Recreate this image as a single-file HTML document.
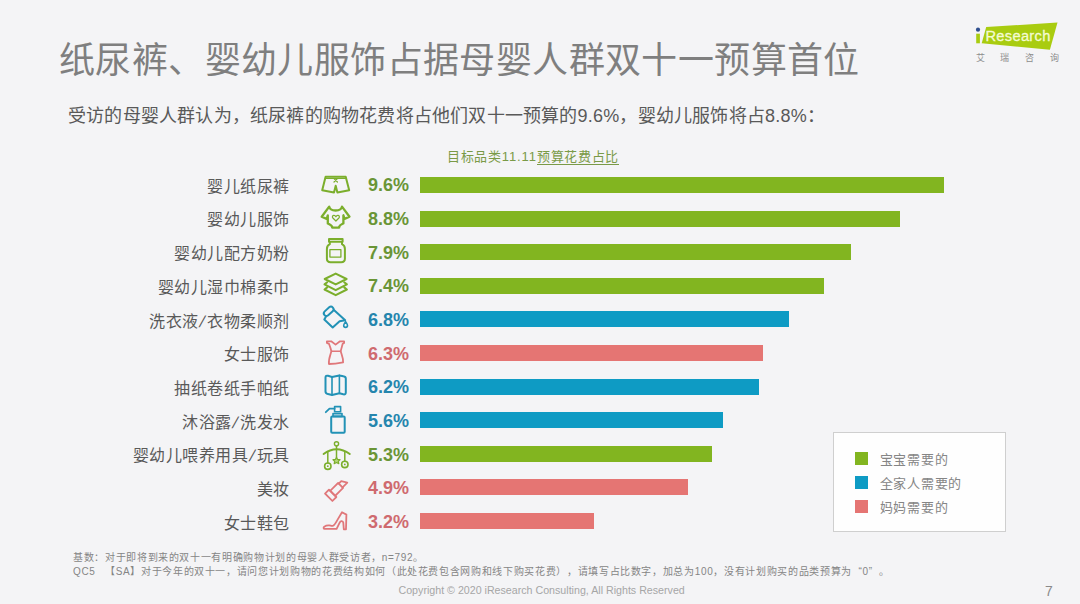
<!DOCTYPE html>
<html lang="zh-CN"><head><meta charset="utf-8">
<style>
*{margin:0;padding:0;box-sizing:border-box}
html,body{width:1080px;height:604px;overflow:hidden;background:#f4f4f6}
body{position:relative;font-family:"Liberation Sans",sans-serif;text-spacing-trim:space-all}
.a{position:absolute;white-space:nowrap}
#title{left:59px;top:41px;font-size:36px;letter-spacing:0.4px;line-height:40px;color:#7f7f7f}
#sub{left:68px;top:105px;font-size:18px;letter-spacing:0.2px;line-height:22px;color:#595959}
#ctitle{left:447px;top:149px;font-size:13px;letter-spacing:0.7px;line-height:16px;color:#7a9a47}
#ctitle u{text-decoration:none;border-bottom:1px solid #7a9a47}
.lab{right:790.5px;font-size:16px;letter-spacing:0.5px;line-height:20px;color:#595959;text-align:right}
.sl{display:inline-block;transform:skewX(-16deg);margin:0 1.6px}
.pct{left:368px;font-size:18px;line-height:20px;font-weight:bold}
.bar{left:420px;height:16px}
.g{background:#82b520}.b{background:#0e9bc4}.p{background:#e57573}
.tg{color:#6a9536}.tb{color:#2585ad}.tp{color:#cf6a6f}
#legend{left:833px;top:432px;width:173px;height:100px;background:#fefefe;border:1px solid #cfcfcf}
.sw{position:absolute;left:21px;width:13px;height:13px}
.lt{position:absolute;left:45.5px;font-size:13px;letter-spacing:0.75px;line-height:16px;color:#858585}
.fn{left:73px;font-size:10px;letter-spacing:0.65px;line-height:13px;color:#858585}
#copy{left:398.5px;top:583.8px;font-size:10.66px;line-height:13px;color:#a6a6a6}
#pg{left:1045px;top:583px;font-size:14px;line-height:16px;color:#8a8a8a}
</style></head><body>
<div class="a" id="title">纸尿裤、婴幼儿服饰占据母婴人群双十一预算首位</div>
<div class="a" id="sub">受访的母婴人群认为，纸尿裤的购物花费将占他们双十一预算的9.6%，婴幼儿服饰将占8.8%：</div>
<div class="a" id="ctitle">目标品类<span style="letter-spacing:0.9px">11.11</span><u>预算花费占比</u></div>

<div class="a lab" style="top:176.80px">婴儿纸尿裤</div>
<div class="a lab" style="top:210.48px">婴幼儿服饰</div>
<div class="a lab" style="top:244.16px">婴幼儿配方奶粉</div>
<div class="a lab" style="top:277.84px">婴幼儿湿巾棉柔巾</div>
<div class="a lab" style="top:311.52px">洗衣液<span class="sl">/</span>衣物柔顺剂</div>
<div class="a lab" style="top:345.20px">女士服饰</div>
<div class="a lab" style="top:378.88px">抽纸卷纸手帕纸</div>
<div class="a lab" style="top:412.56px">沐浴露<span class="sl">/</span>洗发水</div>
<div class="a lab" style="top:446.24px">婴幼儿喂养用具<span class="sl">/</span>玩具</div>
<div class="a lab" style="top:479.92px">美妆</div>
<div class="a lab" style="top:513.60px">女士鞋包</div>

<div class="a pct tg" style="top:175.30px">9.6%</div>
<div class="a pct tg" style="top:208.98px">8.8%</div>
<div class="a pct tg" style="top:242.66px">7.9%</div>
<div class="a pct tg" style="top:276.34px">7.4%</div>
<div class="a pct tb" style="top:310.02px">6.8%</div>
<div class="a pct tp" style="top:343.70px">6.3%</div>
<div class="a pct tb" style="top:377.38px">6.2%</div>
<div class="a pct tb" style="top:411.06px">5.6%</div>
<div class="a pct tg" style="top:444.74px">5.3%</div>
<div class="a pct tp" style="top:478.42px">4.9%</div>
<div class="a pct tp" style="top:512.10px">3.2%</div>

<div class="a bar g" style="top:177px;width:524px"></div>
<div class="a bar g" style="top:210.6px;width:480px"></div>
<div class="a bar g" style="top:244.2px;width:430.6px"></div>
<div class="a bar g" style="top:277.8px;width:404px"></div>
<div class="a bar b" style="top:311.4px;width:368.7px"></div>
<div class="a bar p" style="top:345px;width:342.8px"></div>
<div class="a bar b" style="top:378.6px;width:338.6px"></div>
<div class="a bar b" style="top:412.2px;width:303.1px"></div>
<div class="a bar g" style="top:445.8px;width:292.1px"></div>
<div class="a bar p" style="top:479.4px;width:268px"></div>
<div class="a bar p" style="top:513px;width:173.7px"></div>

<div class="a" id="legend">
<div class="sw g" style="top:18.5px"></div><div class="lt" style="top:18.5px">宝宝需要的</div>
<div class="sw b" style="top:42.5px"></div><div class="lt" style="top:42.5px">全家人需要的</div>
<div class="sw p" style="top:66.5px"></div><div class="lt" style="top:66.5px">妈妈需要的</div>
</div>

<div class="a fn" style="top:551px">基数：对于即将到来的双十一有明确购物计划的母婴人群受访者，n=792。</div>
<div class="a fn" style="top:565.3px">QC5</div>
<div class="a fn" style="top:565.3px;left:105px">【SA】对于今年的双十一，请问您计划购物的花费结构如何（此处花费包含网购和线下购买花费），请填写占比数字，加总为100，没有计划购买的品类预算为<span style="display:inline-block;width:10.6px;text-align:right">“</span>0<span style="display:inline-block;width:10.6px">”</span>。</div>
<div class="a" id="copy">Copyright © 2020 iResearch Consulting, All Rights Reserved</div>
<div class="a" id="pg">7</div>
<svg class="a" style="left:0;top:0" width="1080" height="604" viewBox="0 0 1080 604" fill="none" stroke-linejoin="round" stroke-linecap="round">
<!-- logo -->
<path d="M986.2,27 L1057.5,22.6 L1049.9,49.8 L981.7,43.3 Z" fill="#a9cc10" stroke="none"/>
<rect x="976.2" y="33.7" width="3.7" height="9.6" fill="#a9cc10" stroke="none"/>
<circle cx="978" cy="29.7" r="2.1" fill="#2f4f8f" stroke="none"/>
<g stroke="#7bae2c" stroke-width="2">
<!-- shorts -->
<path d="M325.6,176.8 L345.7,176.8 L349.2,190.2 L337.4,192.6 L335.7,185.8 L334,192.6 L322.2,190.2 Z"/>
<path d="M325.3,178.4 H346" stroke-width="1.2"/>
<path d="M334,178.6 L337.4,182 M337.4,178.6 L334,182" stroke-width="1.2"/>
<!-- onesie -->
<path d="M329.2,206.6 C330.2,211.8 341,211.8 342,206.6 L349.5,216.7 L344.5,218.9 L343.4,215.3 V223.4 C341.8,224.2 339.6,225.2 339.2,226.6 V227.6 H332.1 V226.6 C331.7,225.2 329.5,224.2 327.8,223.4 V215.3 L326.7,218.9 L321.7,216.7 Z" stroke-width="2.3"/>
<path d="M335.9,221 L332.9,218 C331.8,216.8 332.6,215.2 334,215.3 C334.9,215.4 335.5,216 335.9,216.8 C336.3,216 336.9,215.4 337.8,215.3 C339.2,215.2 340,216.8 338.9,218 Z" stroke-width="1.2"/>
<!-- jar -->
<rect x="329" y="238.9" width="13.6" height="2.8" stroke-width="2"/>
<path d="M329.8,242.5 V244.2 C327.6,245.2 326.9,246.8 326.9,249 V258.8 C326.9,261.2 328.2,262.2 330.6,262.2 H341.2 C343.6,262.2 344.9,261.2 344.9,258.8 V249 C344.9,246.8 344.2,245.2 342,244.2 V242.5"/>
<rect x="329.9" y="249.6" width="11" height="7.5" stroke-width="1.3"/>
<!-- layers -->
<path d="M335.7,273.6 L346.6,279 L335.7,284.4 L324.7,279 Z"/>
<path d="M327.2,282.2 L324.5,284.4 L335.7,290.2 L346.9,284.4 L344.2,282.2"/>
<path d="M327.2,287.4 L324.5,289.5 L335.7,295.2 L346.9,289.5 L344.2,287.4"/>
<!-- wipes and mobile drawn later -->
</g>
<g stroke="#2292b6" stroke-width="2">
<!-- detergent -->
<rect x="-5.6" y="-2.6" width="11.2" height="5.2" rx="2.6" transform="translate(328.7,311.3) rotate(-42)"/>
<path d="M326.2,316.3 L324.3,319.6 L332.7,327.4 L339.6,321.3 L345.2,320.3 L334.2,310.2"/>
<path d="M345.6,321.6 C344.8,322.8 343.7,324.2 343.7,325.5 A1.9,1.9 0 0 0 347.5,325.5 C347.5,324.2 346.4,322.8 345.6,321.6 Z" stroke-width="1.6"/>
<!-- folded paper -->
<path d="M325.5,377.6 C325.5,375.9 326.5,375.5 328,375.8 L332,377 L339.4,375.4 L343.4,376.3 C345,376.6 345.8,377.1 345.8,378.6 V392.5 C345.8,394.2 344.8,394.6 343.3,394.3 L339.4,393.3 L332,395 L328,394.1 C326.5,393.7 325.5,393.3 325.5,391.6 Z"/>
<path d="M332,377 V395 M339.4,375.4 V393.3" stroke-width="1.6"/>
<!-- pump bottle -->
<rect x="331.2" y="416.4" width="13.5" height="16.3" rx="1"/>
<rect x="333" y="413.6" width="9" height="2.8" stroke-width="1.6"/>
<rect x="334.6" y="406.6" width="6" height="5.2" stroke-width="1.6"/>
<path d="M334.6,408.6 H329.5 L325.8,412.2" stroke-width="1.8"/>
</g>
<g stroke="#7bae2c" stroke-width="2">
<!-- mobile -->
<circle cx="336.5" cy="443.8" r="2.1" stroke-width="1.4"/>
<path d="M323.6,454 Q336.5,444.4 349.8,454"/>
<path d="M336.5,446 V457.5 M327.8,451.6 V462.9 M344.8,451.6 V461.1" stroke-width="1.5"/>
<circle cx="327.8" cy="466.2" r="3.2" stroke-width="1.6"/>
<circle cx="344.8" cy="464.4" r="3.2" stroke-width="1.6"/>
<circle cx="327.8" cy="466.2" r="0.9" fill="#7bae2c" stroke="none"/>
<circle cx="344.8" cy="464.4" r="0.9" fill="#7bae2c" stroke="none"/>
<path d="M336.5,457.2 L337.6,459.4 L340,459.7 L338.3,461.3 L338.8,463.7 L336.5,462.5 L334.2,463.7 L334.7,461.3 L333,459.7 L335.4,459.4 Z" fill="#b5d67a" stroke-width="1.2"/>
</g>
<g stroke="#e0777a" stroke-width="1.8">
<!-- dress -->
<path d="M326.9,341.3 L331.2,341.3 L335.6,344.6 L340,341.3 L344.1,341.3 L344.1,343 L342.7,343.8 C342,346.5 341.2,349 340.7,351.3 C341.6,354.8 343.4,358 343.1,362.4 C339,363.2 333.2,364 328.9,364 C328.4,359 330.4,354.8 331.4,351.3 C330.9,349 330,346.5 329,343.8 L326.9,343 Z"/>
<path d="M331.4,351.3 H340.7" stroke-width="1.4"/>
<!-- lipstick -->
<g transform="translate(336,490) rotate(45)">
<rect x="-5.2" y="4.7" width="10.4" height="5.6"/>
<rect x="-3.5" y="-6.5" width="7" height="11.2"/>
<path d="M-2.6,-6.5 V-10 L2.8,-13.2 V-6.5"/>
</g>
<!-- heel -->
<path d="M342,512.2 L346.4,514.6 L346,529.3 L343.8,529.3 L343.3,522.6 C343,520.8 340.6,520.6 339.8,522.3 L336.6,528.8 L324.6,528.8 C323.5,528.8 323.2,527.4 324.2,526.7 C325.5,525.8 327.6,525.3 329.2,525.4 C330.8,525.5 331.4,526.3 333,525.8 C334.8,525 336.2,522 337.6,519.6 Z"/>
</g>
</svg>
<div class="a" style="left:985.4px;top:28px;font-size:14.7px;line-height:16px;letter-spacing:0.3px;color:#f4fbd2;-webkit-text-stroke:0.3px #f4fbd2">Research</div>
<div class="a" style="left:976px;top:52.5px;font-size:9px;line-height:11px;color:#8c8c8c;word-spacing:0"><span style="position:absolute;left:0">艾</span><span style="position:absolute;left:24.3px">瑞</span><span style="position:absolute;left:48.9px">咨</span><span style="position:absolute;left:73.5px">询</span></div>
</body></html>
